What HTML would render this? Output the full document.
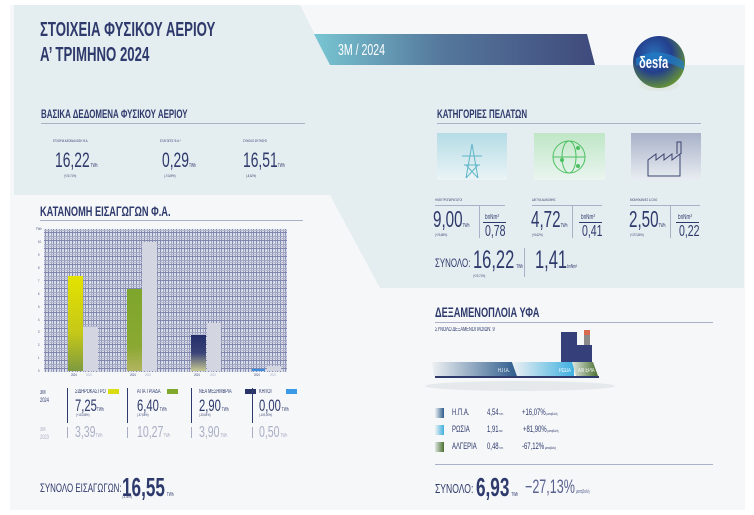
<!DOCTYPE html>
<html><head><meta charset="utf-8"><style>
*{margin:0;padding:0;box-sizing:border-box}
body{width:754px;height:515px;background:#fff;position:relative;overflow:hidden;font-family:"Liberation Sans",sans-serif;color:#2f3a6c}
.s{position:absolute;left:0;top:0}
.a{position:absolute;white-space:nowrap;line-height:1;transform:scaleX(.66);transform-origin:left top}
.b{font-weight:bold}
.t{font-size:4px;color:#3a4470}
.hr{position:absolute;height:1px;background:#aab0c8}
.vr{position:absolute;width:1px;background:#2f3a6c}
.g{color:#a9aec4}
</style></head><body>
<svg class="s" width="754" height="515">
<defs>
<linearGradient id="ban" x1="0" x2="1"><stop offset="0" stop-color="#78c6d3"/><stop offset=".45" stop-color="#55789c"/><stop offset="1" stop-color="#3f4a7c"/></linearGradient>
<linearGradient id="yel" x1="0" y1="0" x2="0" y2="1"><stop offset="0" stop-color="#e4e300"/><stop offset=".6" stop-color="#c5c818"/><stop offset="1" stop-color="#7e9a40"/></linearGradient>
<linearGradient id="grn" x1="0" y1="0" x2="0" y2="1"><stop offset="0" stop-color="#7ea62c"/><stop offset=".7" stop-color="#8aa832"/><stop offset="1" stop-color="#b2b460"/></linearGradient>
<linearGradient id="nav" x1="0" y1="0" x2="0" y2="1"><stop offset="0" stop-color="#232e6a"/><stop offset=".5" stop-color="#3a4478"/><stop offset="1" stop-color="#c8c890"/></linearGradient>
<linearGradient id="i1" x1="0" y1="0" x2="0" y2="1"><stop offset="0" stop-color="#b5dce6"/><stop offset="1" stop-color="#eaf4f6"/></linearGradient>
<linearGradient id="i2" x1="0" y1="0" x2="0" y2="1"><stop offset="0" stop-color="#bfe6c6"/><stop offset="1" stop-color="#eaf5f0"/></linearGradient>
<linearGradient id="i3" x1="0" y1="0" x2="0" y2="1"><stop offset="0" stop-color="#a8b1c8"/><stop offset="1" stop-color="#e9edf2"/></linearGradient>
<linearGradient id="usa" x1="0" x2="1"><stop offset="0" stop-color="#eef1f3"/><stop offset="1" stop-color="#2e5c8c"/></linearGradient>
<linearGradient id="rus" x1="0" x2="1"><stop offset="0" stop-color="#eef1f3"/><stop offset="1" stop-color="#3fb0e0"/></linearGradient>
<linearGradient id="alg" x1="0" x2="1"><stop offset="0" stop-color="#dfe6e0"/><stop offset="1" stop-color="#4a7030"/></linearGradient>
<radialGradient id="logo" cx=".4" cy=".35" r=".7"><stop offset="0" stop-color="#2a6fb8"/><stop offset=".5" stop-color="#243f8c"/><stop offset="1" stop-color="#6a9a30"/></radialGradient>
<pattern id="grid" width="8" height="8" patternUnits="userSpaceOnUse"><rect width="8" height="8" fill="#d9dce6"/><rect width="1" height="8" fill="#8088b0"/><rect x="3" width="1" height="8" fill="#a2a8c4"/><rect x="5" width="1" height="8" fill="#8890b6"/><rect width="8" height="1" fill="#8088b0"/><rect y="4" width="8" height="1" fill="#a2a8c4"/><rect y="6" width="8" height="1" fill="#b4b9d0"/></pattern>
</defs>
<rect x="10" y="5" width="735" height="505" fill="#f5f7f9"/>
<polygon points="14,5 300,5 330,65 744,65 744,288 380,288 330,195 14,195" fill="#e4edf0"/>
<polygon points="314,34 587,34 595,65 330,65" fill="url(#ban)"/>
<ellipse cx="659" cy="85" rx="20" ry="6" fill="#dfe6e0" opacity=".8"/>
<circle cx="659" cy="62" r="26" fill="url(#logo)"/>
<path d="M636 58 Q660 45 684 62 L684 70 Q660 55 636 66Z" fill="#1f7fc8" opacity=".7"/>
<rect x="437" y="133" width="70" height="47" fill="url(#i1)"/>
<rect x="534" y="133" width="71" height="47" fill="url(#i2)"/>
<rect x="631" y="133" width="70" height="47" fill="url(#i3)"/>
<g stroke="#5fb6c8" fill="none" stroke-width="1"><path d="M472 144 L466 178 M472 144 L478 178 M462 156 H482 M464 165 H480 M466 178 L478 165 M478 178 L466 165"/></g>
<g stroke="#4cc060" fill="none" stroke-width="1"><circle cx="569" cy="157" r="16"/><ellipse cx="569" cy="157" rx="7" ry="16"/><path d="M553 157 H585"/></g>
<circle cx="578" cy="148" r="2" fill="#4cc060"/><circle cx="562" cy="160" r="2" fill="#4cc060"/><circle cx="578" cy="166" r="2" fill="#4cc060"/>
<g stroke="#3a4470" fill="none" stroke-width="1"><path d="M648 176 V160 L656 154 V160 L664 154 V160 L672 154 V160 L680 154 V176 Z M677 154 V142 H681 V154"/></g>
<rect x="44" y="229" width="243" height="143" fill="url(#grid)"/>
<rect x="68" y="276" width="15" height="95" fill="url(#yel)"/>
<rect x="83" y="327" width="15" height="44" fill="#d3d5e0"/>
<rect x="127" y="289" width="15" height="82" fill="url(#grn)"/>
<rect x="142" y="242" width="15" height="129" fill="#d3d5e0"/>
<rect x="191" y="335" width="15" height="36" fill="url(#nav)"/>
<rect x="207" y="323" width="14" height="48" fill="#d3d5e0"/>
<rect x="252" y="369" width="13" height="2" fill="#3a8ee0"/>
<rect x="267" y="366" width="14" height="5" fill="#d3d5e0"/>
<rect x="108" y="389" width="11" height="5" fill="#d8dc10"/>
<rect x="167" y="389" width="11" height="5" fill="#80a82c"/>
<rect x="245" y="389" width="11" height="5" fill="#2a3468"/>
<rect x="286" y="389" width="11" height="5" fill="#3a9ae8"/>
<rect x="561" y="332" width="16" height="31" fill="#35407a"/>
<rect x="577" y="345" width="15" height="18" fill="#35407a"/>
<rect x="584" y="330" width="6" height="15" fill="#8a8a8a"/>
<rect x="584" y="330" width="6" height="5" fill="#d86a50"/>
<polygon points="432,362 512,362 517,376 434,376" fill="url(#usa)"/>
<polygon points="512,362 574,362 574,376 517,376" fill="url(#rus)"/>
<polygon points="572,362 593,362 598,376 576,376" fill="url(#alg)"/>
<rect x="435" y="376" width="164" height="2" fill="#2f3a6c"/>
<ellipse cx="520" cy="386" rx="95" ry="5" fill="#e6e9ec"/>
<rect x="435" y="408" width="9" height="10" fill="url(#usa)"/>
<rect x="435" y="425" width="9" height="10" fill="url(#rus)"/>
<rect x="435" y="442" width="9" height="10" fill="url(#alg)"/>
</svg>

<div class="a b" style="left:40px;top:20px;font-size:20px">ΣΤΟΙΧΕΙΑ ΦΥΣΙΚΟΥ ΑΕΡΙΟΥ</div>
<div class="a b" style="left:40px;top:45px;font-size:20px">Α’ ΤΡΙΜΗΝΟ 2024</div>
<div class="a" style="left:338px;top:43px;font-size:16px;color:#fff">3M / 2024</div>
<div class="a b" style="left:639px;top:54px;font-size:17px;color:#fff">δesfa</div>

<div class="a b" style="left:41px;top:108px;font-size:12px">ΒΑΣΙΚΑ ΔΕΔΟΜΕΝΑ ΦΥΣΙΚΟΥ ΑΕΡΙΟΥ</div>
<div class="hr" style="left:41px;top:123px;width:264px"></div>
<div class="a t" style="left:53px;top:139px">ΕΓΧΩΡΙΑ ΚΑΤΑΝΑΛΩΣΗ Φ.Α.</div>
<div class="a t" style="left:160px;top:139px">ΕΞΑΓΩΓΕΣ Φ.Α.*</div>
<div class="a t" style="left:243px;top:139px">ΣΥΝΟΛΟ ΖΗΤΗΣΗΣ</div>
<div class="a" style="left:55px;top:150px;font-size:21px">16,22<span style="font-size:5px"> TWh</span></div>
<div class="a" style="left:162px;top:150px;font-size:21px">0,29<span style="font-size:5px">TWh</span></div>
<div class="a" style="left:243px;top:150px;font-size:21px">16,51<span style="font-size:5px">TWh</span></div>
<div class="a t" style="left:64px;top:174px">(+20,71%)</div>
<div class="a t" style="left:164px;top:174px">(-74,89%)</div>
<div class="a t" style="left:246px;top:174px">(-8,62%)</div>

<div class="a b" style="left:437px;top:108px;font-size:12px">ΚΑΤΗΓΟΡΙΕΣ ΠΕΛΑΤΩΝ</div>
<div class="hr" style="left:437px;top:123px;width:264px"></div>
<div class="a t" style="left:435px;top:198px">ΗΛΕΚΤΡΟΠΑΡΑΓΩΓΟΙ</div>
<div class="a t" style="left:532px;top:198px">ΔΙΚΤΥΑ ΔΙΑΝΟΜΗΣ</div>
<div class="a t" style="left:630px;top:198px">ΒΙΟΜΗΧΑΝΙΕΣ &amp; CNG</div>
<div class="hr" style="left:435px;top:205px;width:70px"></div>
<div class="hr" style="left:532px;top:205px;width:70px"></div>
<div class="hr" style="left:630px;top:205px;width:70px"></div>
<div class="a" style="left:433px;top:208px;font-size:23px">9,00<span style="font-size:5px">TWh</span></div>
<div class="a" style="left:531px;top:208px;font-size:23px">4,72<span style="font-size:5px">TWh</span></div>
<div class="a" style="left:629px;top:208px;font-size:23px">2,50<span style="font-size:5px">TWh</span></div>
<div class="a t" style="left:435px;top:233px">(+29,88%)</div>
<div class="a t" style="left:532px;top:233px">(+8,62%)</div>
<div class="a t" style="left:630px;top:233px">(+237,86%)</div>
<div class="vr" style="left:479px;top:205px;height:33px;background:#aab0c8"></div>
<div class="vr" style="left:572px;top:205px;height:33px;background:#aab0c8"></div>
<div class="vr" style="left:670px;top:205px;height:33px;background:#aab0c8"></div>
<div class="a" style="left:485px;top:214px;font-size:7px">bnNm³</div>
<div class="a" style="left:581px;top:214px;font-size:7px">bnNm³</div>
<div class="a" style="left:678px;top:214px;font-size:7px">bnNm³</div>
<div class="hr" style="left:483px;top:222px;width:23px;background:#2f3a6c"></div>
<div class="hr" style="left:579px;top:222px;width:23px;background:#2f3a6c"></div>
<div class="hr" style="left:676px;top:222px;width:23px;background:#2f3a6c"></div>
<div class="a" style="left:485px;top:224px;font-size:16px">0,78</div>
<div class="a" style="left:582px;top:224px;font-size:16px">0,41</div>
<div class="a" style="left:679px;top:224px;font-size:16px">0,22</div>
<div class="a" style="left:435px;top:257px;font-size:12px">ΣΥΝΟΛΟ:</div>
<div class="a" style="left:473px;top:248px;font-size:25px">16,22<span style="font-size:5px"> &nbsp;TWh</span></div>
<div class="a t" style="left:473px;top:274px">(+20,71%)</div>
<div class="vr" style="left:524px;top:248px;height:29px;background:#aab0c8"></div>
<div class="a" style="left:535px;top:248px;font-size:25px">1,41<span style="font-size:5px">bnNm³</span></div>

<div class="a b" style="left:435px;top:305px;font-size:14px">ΔΕΞΑΜΕΝΟΠΛΟΙΑ ΥΦΑ</div>
<div class="hr" style="left:435px;top:322px;width:278px"></div>
<div class="a" style="left:435px;top:327px;font-size:6px">ΣΥΝΟΛΟ ΔΕΞΑΜΕΝΟΠΛΟΙΩΝ: 9</div>
<div class="a" style="left:498px;top:368px;font-size:6px;color:#fff">Η.Π.Α.</div>
<div class="a" style="left:559px;top:368px;font-size:6px;color:#fff">ΡΩΣΙΑ</div>
<div class="a" style="left:578px;top:368px;font-size:6px;color:#fff">ΑΛΓΕΡΙΑ</div>
<div class="a" style="left:452px;top:408px;font-size:9px">Η.Π.Α.</div>
<div class="a" style="left:452px;top:425px;font-size:9px">ΡΩΣΙΑ</div>
<div class="a" style="left:452px;top:442px;font-size:9px">ΑΛΓΕΡΙΑ</div>
<div class="a" style="left:487px;top:408px;font-size:9px">4,54<span style="font-size:3px"> TWh</span></div>
<div class="a" style="left:487px;top:425px;font-size:9px">1,91<span style="font-size:3px">TWh</span></div>
<div class="a" style="left:487px;top:442px;font-size:9px">0,48<span style="font-size:3px"> TWh</span></div>
<div class="a" style="left:522px;top:408px;font-size:9px">+16,07%<span style="font-size:4px"> μεταβολή</span></div>
<div class="a" style="left:523px;top:425px;font-size:9px">+81,90%<span style="font-size:4px"> μεταβολή</span></div>
<div class="a" style="left:522px;top:442px;font-size:9px">-67,12%<span style="font-size:4px"> μεταβολή</span></div>
<div class="hr" style="left:435px;top:464px;width:278px"></div>
<div class="a" style="left:435px;top:482px;font-size:13px">ΣΥΝΟΛΟ:</div>
<div class="a b" style="left:476px;top:474px;font-size:26px">6,93<span style="font-size:5px;font-weight:normal"> &nbsp;TWh</span></div>
<div class="a" style="left:525px;top:478px;font-size:19px;color:#5a6290">−27,13%<span style="font-size:5px"> μεταβολή</span></div>

<div class="a b" style="left:40px;top:204px;font-size:14px">ΚΑΤΑΝΟΜΗ ΕΙΣΑΓΩΓΩΝ Φ.Α.</div>
<div class="hr" style="left:40px;top:220px;width:263px"></div>
<div class="a t" style="left:36px;top:227px">TWh</div>
<div class="a t" style="left:38px;top:240px">10</div><div class="a t" style="left:38px;top:253px">9</div><div class="a t" style="left:38px;top:266px">8</div><div class="a t" style="left:38px;top:279px">7</div><div class="a t" style="left:38px;top:292px">6</div><div class="a t" style="left:38px;top:305px">5</div><div class="a t" style="left:38px;top:318px">4</div><div class="a t" style="left:38px;top:330px">3</div><div class="a t" style="left:38px;top:343px">2</div><div class="a t" style="left:38px;top:356px">1</div><div class="a t" style="left:38px;top:369px">0</div>
<div class="a t" style="left:71px;top:373px">2024</div><div class="a t g" style="left:86px;top:373px">2023</div>
<div class="a t" style="left:130px;top:373px">2024</div><div class="a t g" style="left:145px;top:373px">2023</div>
<div class="a t" style="left:194px;top:373px">2024</div><div class="a t g" style="left:210px;top:373px">2023</div>
<div class="a t" style="left:254px;top:373px">2024</div><div class="a t g" style="left:270px;top:373px">2023</div>

<div class="a" style="left:40px;top:389px;font-size:6px;line-height:1.4">3M<br>2024</div>
<div class="vr" style="left:67px;top:388px;height:35px"></div>
<div class="vr" style="left:127px;top:388px;height:35px"></div>
<div class="vr" style="left:191px;top:388px;height:35px"></div>
<div class="vr" style="left:252px;top:388px;height:35px"></div>
<div class="a" style="left:75px;top:389px;font-size:6px">ΣΙΔΗΡΟΚΑΣΤΡΟ</div>
<div class="a" style="left:137px;top:389px;font-size:6px">ΑΓΙΑ ΤΡΙΑΔΑ</div>
<div class="a" style="left:199px;top:389px;font-size:6px">ΝΕΑ ΜΕΣΗΜΒΡΙΑ</div>
<div class="a" style="left:259px;top:389px;font-size:6px">ΚΗΠΟΙ</div>
<div class="a" style="left:75px;top:397px;font-size:17px">7,25<span style="font-size:5px">TWh</span></div>
<div class="a" style="left:137px;top:397px;font-size:17px">6,40<span style="font-size:5px"> TWh</span></div>
<div class="a" style="left:199px;top:397px;font-size:17px">2,90<span style="font-size:5px"> TWh</span></div>
<div class="a" style="left:259px;top:397px;font-size:17px">0,00<span style="font-size:5px"> TWh</span></div>
<div class="a t" style="left:76px;top:413px">(+113,86%)</div>
<div class="a t" style="left:137px;top:413px">(-37,68%)</div>
<div class="a t" style="left:199px;top:413px">(-25,64%)</div>
<div class="a t" style="left:259px;top:413px">(-100,00%)</div>
<div class="a g" style="left:40px;top:426px;font-size:6px;line-height:1.4">3M<br>2023</div>
<div class="vr" style="left:67px;top:427px;height:11px;background:#a9aec4"></div>
<div class="vr" style="left:127px;top:427px;height:11px;background:#a9aec4"></div>
<div class="vr" style="left:191px;top:427px;height:11px;background:#a9aec4"></div>
<div class="vr" style="left:252px;top:427px;height:11px;background:#a9aec4"></div>
<div class="a g" style="left:75px;top:425px;font-size:16px">3,39<span style="font-size:5px">TWh</span></div>
<div class="a g" style="left:137px;top:425px;font-size:16px">10,27<span style="font-size:5px">TWh</span></div>
<div class="a g" style="left:199px;top:425px;font-size:16px">3,90<span style="font-size:5px"> TWh</span></div>
<div class="a g" style="left:259px;top:425px;font-size:16px">0,50<span style="font-size:5px"> TWh</span></div>

<div class="a" style="left:40px;top:482px;font-size:12px">ΣΥΝΟΛΟ ΕΙΣΑΓΩΓΩΝ:</div>
<div class="a b" style="left:122px;top:474px;font-size:26px">16,55<span style="font-size:5px;font-weight:normal"> &nbsp;TWh</span></div>
<div class="a t" style="left:122px;top:495px">(-4,58%)</div>
</body></html>
